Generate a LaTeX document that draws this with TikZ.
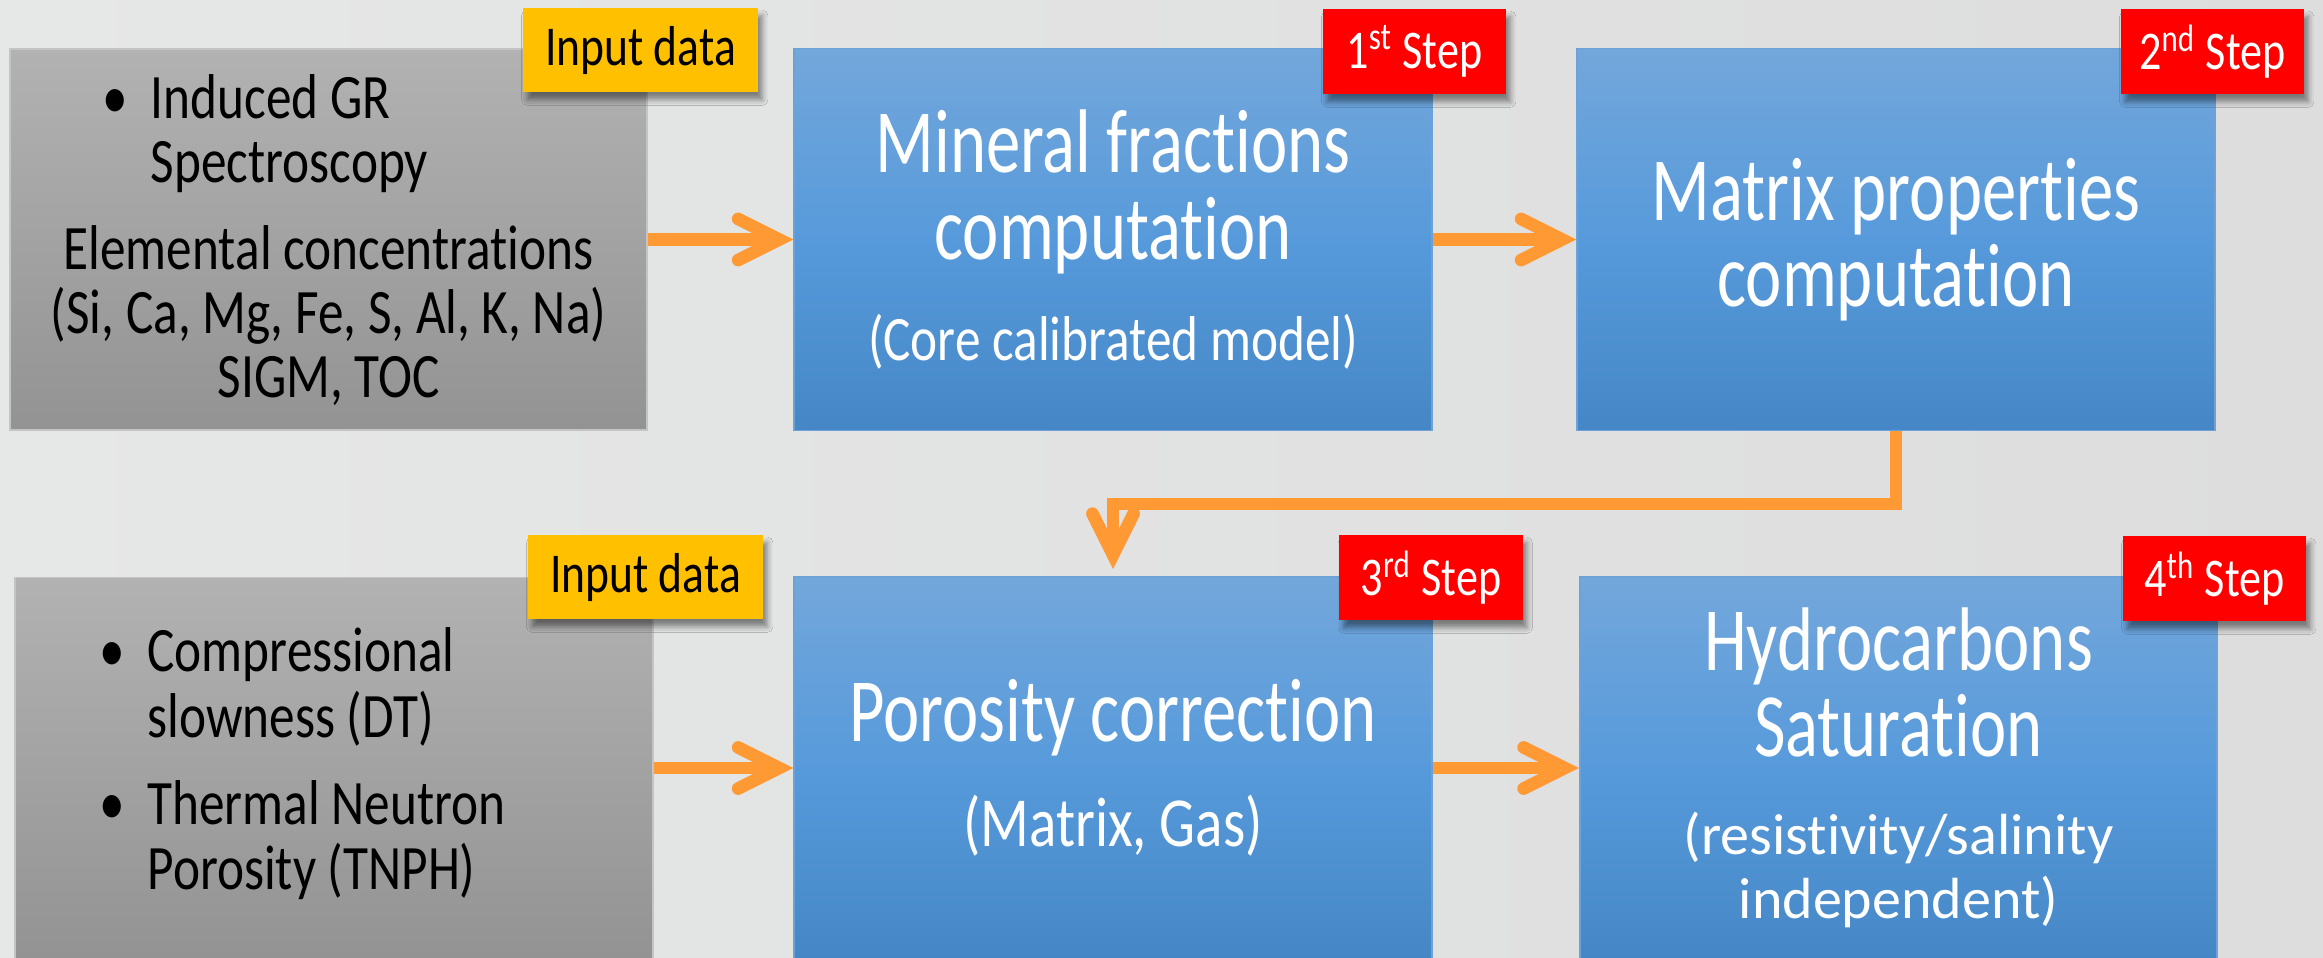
\documentclass[tikz,border=0pt]{standalone}
\usepackage{fontspec}
\setmainfont{Carlito}[Ligatures=NoCommon]
\newfontfamily\slimfont[FakeStretch=0.81, Ligatures=NoCommon]{Carlito}
\newfontfamily\headfont[FakeStretch=0.76, Ligatures=NoCommon]{Carlito}
\usetikzlibrary{arrows.meta,shadows.blur}

\definecolor{backleft}{HTML}{E6E7E7}
\definecolor{backright}{HTML}{DDDDDD}
\definecolor{graytop}{HTML}{B2B2B2}
\definecolor{graybot}{HTML}{939393}
\definecolor{grayline}{HTML}{C4C4C4}
\definecolor{bluetop}{HTML}{73A7DB}
\definecolor{bluemid}{HTML}{579ADB}
\definecolor{bluebot}{HTML}{4587C6}
\definecolor{blueline}{HTML}{6CA2D8}
\definecolor{tagyellow}{HTML}{FFC000}
\definecolor{tagred}{HTML}{FF0000}
\definecolor{flowline}{HTML}{FF9933}

\begin{document}
\begin{tikzpicture}[x=0.01cm, y=-0.01cm,
				    inputbox/.style={draw=grayline, line width=0.5pt, top color=graytop, bottom color=graybot,
				    			  minimum width=6.37cm, minimum height=3.81cm, inner sep=0pt, align=center,
				    			  text=black, font=\slimfont\fontsize{18}{18.2}\selectfont},
				    stepbox/.style={draw=blueline, line width=0.5pt, top color=bluetop, bottom color=bluebot,
				    			  middle color=bluemid, minimum width=6.37cm, minimum height=3.82cm, inner sep=0pt,
				    			  align=center, text=white, font=\headfont\fontsize{25.7}{24.5}\selectfont},
				    datatag/.style={fill=tagyellow, text=black, minimum width=2.35cm, minimum height=0.84cm,
				    			  inner sep=0pt, font=\slimfont\fontsize{16}{18}\selectfont,
				    			  blur shadow={shadow xshift=1.2pt, shadow yshift=-2.2pt, shadow blur radius=1.6pt, shadow opacity=45}},
				    steptag/.style={datatag, fill=tagred, text=white, minimum width=1.83cm, minimum height=0.85cm,
				    			  font=\slimfont\fontsize{15.5}{18}\selectfont},
				    flow/.style={draw=flowline, line width=3.6pt,
				    			  -{Straight Barb[length=11.7pt, width=11.7pt, line cap=round, line join=miter]}}]
	\useasboundingbox (0,0) rectangle (2323,957);
	\clip (0,0) rectangle (2323,957);
	\fill[left color=backleft, right color=backright] (0,0) rectangle (2323,957);

	\node[inputbox] (s1) at (328.5, 239.5) {\begin{tabular}[b]{@{}l@{\hspace{6.5pt}}l@{}}\textbullet & Induced GR\\ & Spectroscopy\end{tabular}\hspace*{36pt}\\[6.6pt]Elemental concentrations\\(Si, Ca, Mg, Fe, S, Al, K, Na)\\SIGM, TOC};
	\node[stepbox] (s2) at (1113, 239.5) {Mineral fractions\\computation\\[4.2pt]{\slimfont\fontsize{18}{18.2}\selectfont (Core calibrated model)}};
	\node[stepbox] (s3) at (1896, 239.5) {Matrix properties\\computation};
	\node[inputbox] (s4) at (334, 768) {\begin{tabular}{@{}l@{\hspace{6.5pt}}l@{}}\textbullet & Compressional\\ & slowness (DT)\\[6.6pt]\textbullet & Thermal Neutron\\ & Porosity (TNPH)\end{tabular}\hspace*{18pt}};
	\node[stepbox] (s5) at (1113, 768) {Porosity correction\\[5.4pt]{\slimfont\fontsize{20}{20}\selectfont (Matrix, Gas)}};
	\node[stepbox] (s6) at (1898.5, 768) {Hydrocarbons\\Saturation\\[3.4pt]{\normalfont\fontsize{16.5}{18.2}\selectfont (resistivity/salinity}\\[-6.3pt]{\normalfont\fontsize{16.5}{18.2}\selectfont independent)}};

	\node[datatag] (t1) at (640.5, 50) {Input data};
	\node[steptag] (t2) at (1414.5, 51.5) {1\textsuperscript{st} Step};
	\node[steptag] (t3) at (2212.5, 51.5) {2\textsuperscript{nd} Step};
	\node[datatag] (t4) at (645.5, 577) {Input data};
	\node[steptag] (t5) at (1431, 577.5) {3\textsuperscript{rd} Step};
	\node[steptag] (t6) at (2214.5, 578.5) {4\textsuperscript{th} Step};

	\coordinate (c1) at (1500, 504);

	\path[flow] (s1) edge (s2);
	\path[flow] (s2) edge (s3);
	\path[flow] (s4) edge (s5);
	\path[flow] (s5) edge (s6);
	\draw[flow, shorten >=2pt] (s3.south) |- (c1) -| (s5.north);

\end{tikzpicture}
\end{document}
